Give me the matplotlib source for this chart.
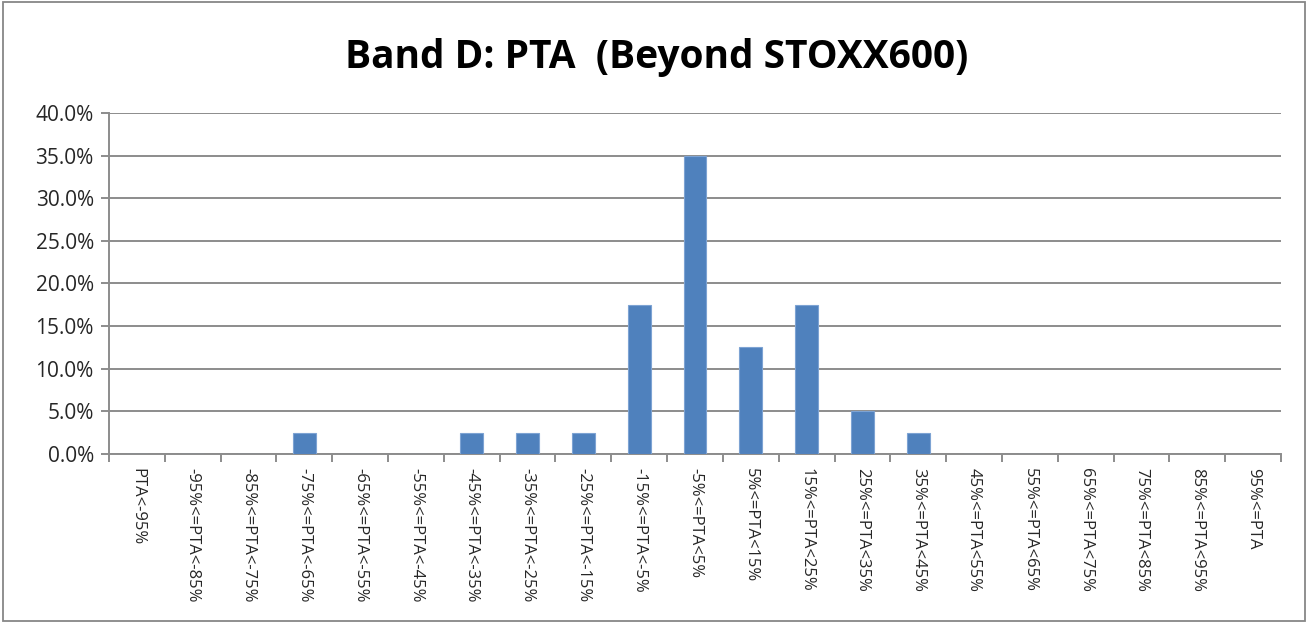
import numpy as np
import matplotlib
matplotlib.use('Agg')
import matplotlib.pyplot as plt
from matplotlib.ticker import PercentFormatter
from matplotlib.patches import Rectangle

categories = ['PTA<-95%', '-95%<=PTA<-85%', '-85%<=PTA<-75%', '-75%<=PTA<-65%',
              '-65%<=PTA<-55%', '-55%<=PTA<-45%', '-45%<=PTA<-35%', '-35%<=PTA<-25%',
              '-25%<=PTA<-15%', '-15%<=PTA<-5%', '-5%<=PTA<5%', '5%<=PTA<15%',
              '15%<=PTA<25%', '25%<=PTA<35%', '35%<=PTA<45%', '45%<=PTA<55%',
              '55%<=PTA<65%', '65%<=PTA<75%', '75%<=PTA<85%', '85%<=PTA<95%', '95%<=PTA']
share = [0.0, 0.0, 0.0, 2.5, 0.0, 0.0, 2.5, 2.5, 2.5, 17.5, 35.0, 12.5,
         17.5, 5.0, 2.5, 0.0, 0.0, 0.0, 0.0, 0.0, 0.0]
yticks = [0, 5, 10, 15, 20, 25, 30, 35, 40]

grid_col = '#8c8c8c'
text_col = '#262626'

fig = plt.figure(figsize=(13.09, 6.23), dpi=100)
fig.patches.append(Rectangle((0.002, 0.003), 0.995, 0.994, transform=fig.transFigure,
                             fill=False, edgecolor='#878787', linewidth=1.3))

ax = fig.add_axes([0.0833, 0.2713, 0.8953, 0.5474])
x = np.arange(len(categories))
ax.bar(x, share, width=0.41, color='#4f81bd', edgecolor='#7da3d3', linewidth=0.8, zorder=3)

ax.set_xlim(-0.5, len(categories) - 0.5)
ax.set_ylim(0, 40)
ax.set_yticks(yticks)
ax.yaxis.set_major_formatter(PercentFormatter(decimals=1))
ax.grid(axis='y', color=grid_col, linewidth=1.4, zorder=0)

ax.set_xticks(x)
ax.set_xticklabels(categories, rotation=-90, fontsize=12, color=text_col,
                   family='Open Sans', va='top', ha='center')
ax.set_xticks(np.arange(-0.5, len(categories)), minor=True)
ax.tick_params(axis='x', which='major', length=0, pad=10)
ax.tick_params(axis='x', which='minor', length=6, width=1.4, color=grid_col)
ax.tick_params(axis='y', length=6, width=1.4, color=grid_col, labelsize=15,
               labelcolor=text_col, pad=5)
for lbl in ax.get_yticklabels():
    lbl.set_family('Open Sans')

for side in ['top', 'right']:
    ax.spines[side].set_visible(False)
for side in ['left', 'bottom']:
    ax.spines[side].set_color(grid_col)
    ax.spines[side].set_linewidth(1.4)

fig.text(0.502, 0.907, 'Band D: PTA  (Beyond STOXX600)', ha='center', va='center',
         fontsize=28, fontweight='bold', family='Open Sans', color='black')

fig.savefig('out.png', dpi=100)
